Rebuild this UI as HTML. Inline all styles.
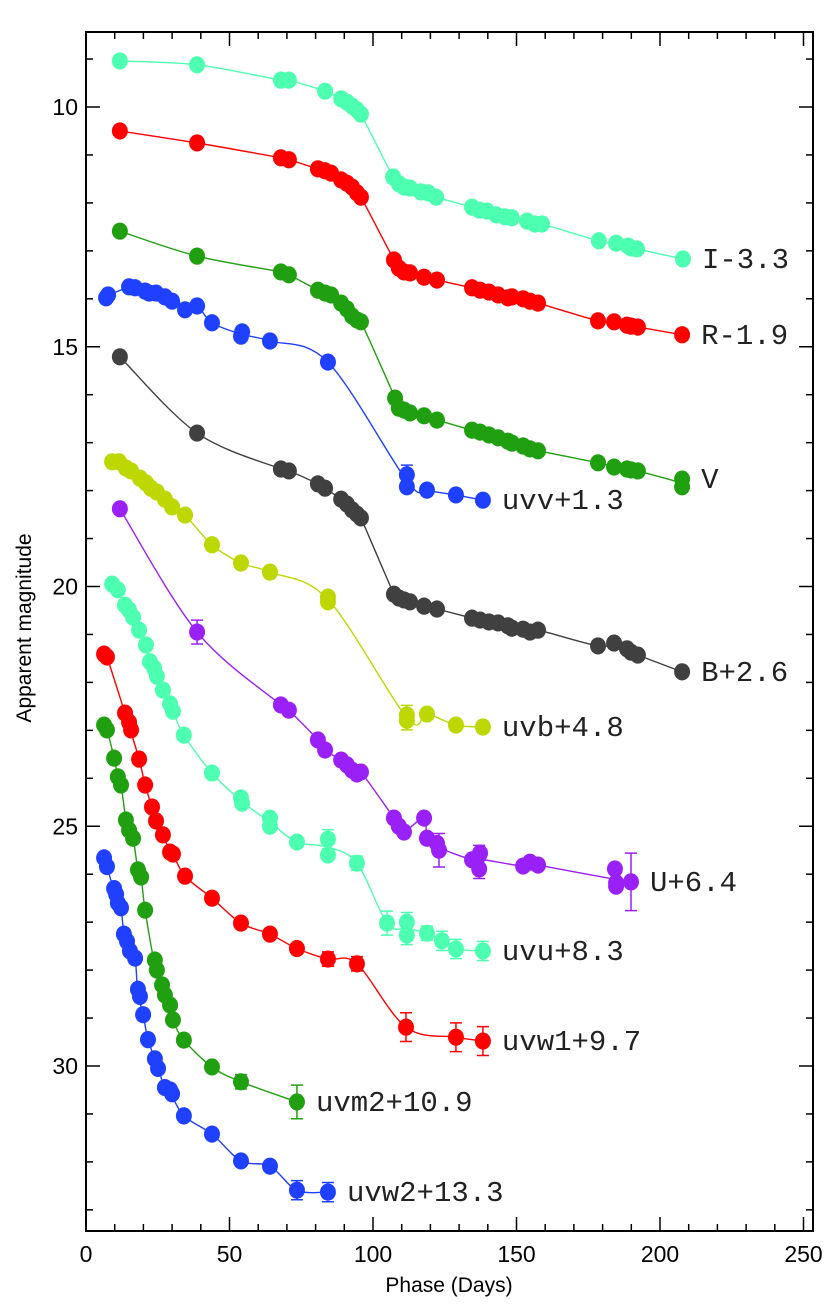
<!DOCTYPE html>
<html><head><meta charset="utf-8"><style>
html,body{margin:0;padding:0;background:#fff;}
svg{display:block;}
text{font-family:"Liberation Sans",sans-serif;}
.lbl{font-family:"Liberation Mono",monospace;font-size:29px;fill:#222;}
</style></head><body>
<svg id="chart" width="830" height="1304" viewBox="0 0 830 1304" xmlns="http://www.w3.org/2000/svg">
<g id="grid"></g>
<g id="series"></g>
<rect x="86" y="32" width="727" height="1199" fill="none" stroke="#000" stroke-width="2"/>
<text x="449" y="1292" font-size="21" text-anchor="middle">Phase (Days)</text>
<text x="31" y="628" font-size="21" text-anchor="middle" transform="rotate(-90 31 628)">Apparent magnitude</text>
</svg>
<script>
const xTicks=[0,50,100,150,200,250];
const yTicks=[10,15,20,25,30];
const seriesNames=["I-3.3","R-1.9","V","uvv+1.3","B+2.6","uvb+4.8","U+6.4","uvu+8.3","uvw1+9.7","uvm2+10.9","uvw2+13.3"];
const seriesColors=["#4dffb0","#ff0000","#20a010","#2040ff","#404040","#bcd800","#9a20f8","#4dffb0","#ff0000","#20a010","#2040ff"];
const iPhase=[11.8,38.7,67.9,70.7,83.3,88.9,90.9,92.7,94.4,95.8,107,109,110.8,112.9,116.7,119.2,122,134.5,137,139.7,142.9,146,148.4,153.7,156.4,158.9,178.7,184.7,188.9,189.9,192,208];
const iMag=[9.04,9.12,9.44,9.44,9.67,9.83,9.9,9.98,10.06,10.15,11.46,11.6,11.67,11.69,11.77,11.79,11.88,12.09,12.15,12.17,12.25,12.29,12.31,12.38,12.44,12.44,12.79,12.84,12.9,12.94,12.96,13.17];
const rPhase=[11.8,38.7,67.9,70.7,80.8,83.3,85.4,88.9,90.9,92.7,94.4,95.8,107.3,109,110.8,112.9,117.8,122.3,134.5,137.3,140.4,143.6,147,148.4,152.3,154.7,157.5,178.4,184,188.5,189.9,192.3,207.7];
const rMag=[10.5,10.75,11.06,11.1,11.29,11.33,11.38,11.52,11.59,11.67,11.79,11.88,13.19,13.36,13.44,13.46,13.55,13.61,13.77,13.82,13.86,13.92,13.98,13.96,14.0,14.05,14.09,14.46,14.48,14.55,14.57,14.59,14.75];
const vPhase=[11.8,38.7,67.9,70.7,80.8,83.3,85.4,88.9,90.9,92.7,94.4,95.8,107.7,109,110.8,112.9,117.8,122.3,134.5,137.3,140.4,143.6,147,148.4,152.3,154.7,157.5,178.4,184,188.5,189.9,192.3,207.7,207.7];
const vMag=[12.59,13.11,13.44,13.5,13.82,13.88,13.92,14.09,14.21,14.36,14.44,14.48,16.07,16.28,16.32,16.38,16.44,16.53,16.74,16.78,16.84,16.9,16.97,17.01,17.07,17.13,17.17,17.42,17.51,17.55,17.57,17.59,17.76,17.92];
const uvvPhase=[7,7.7,15,17.1,20.6,22,24.4,27.5,30,34.5,38.7,43.9,54,54.4,64.1,84.3,111.8,111.8,118.8,128.9,138.3];
const uvvMag=[13.98,13.92,13.75,13.77,13.84,13.88,13.88,13.96,14.05,14.23,14.15,14.5,14.78,14.69,14.88,15.32,17.67,17.92,17.99,18.09,18.2];
const uvvErr=[0,0,0,0,0,0,0,0,0,0,0,0,0,0,0,0,0.2,0,0,0,0];
const bPhase=[11.8,38.7,67.9,70.7,80.8,83.3,88.9,90.9,92.7,94.4,95.8,107.3,109,110.8,112.9,117.8,122.3,134.5,137.3,140.4,143.6,147,148.4,152.3,154.7,157.5,178.4,184,188.5,189.9,192.3,207.7];
const bMag=[15.21,16.8,17.55,17.59,17.86,17.95,18.18,18.28,18.4,18.49,18.57,20.16,20.24,20.28,20.32,20.41,20.47,20.66,20.7,20.74,20.76,20.82,20.87,20.89,20.95,20.91,21.24,21.18,21.3,21.37,21.43,21.78];
const uvbPhase=[9.1,11.5,13.9,15.7,18.8,20.9,22.6,24.7,27.5,30,34.5,43.9,54,64.1,84.3,84.3,111.8,111.8,118.8,128.9,138.3];
const uvbMag=[17.4,17.4,17.53,17.59,17.74,17.84,17.95,18.03,18.18,18.34,18.51,19.13,19.51,19.7,20.22,20.32,22.68,22.79,22.66,22.89,22.93];
const uvbErr=[0,0,0,0,0,0,0,0,0,0,0,0,0,0,0,0,0.2,0.2,0,0,0];
const uPhase=[11.8,38.7,67.9,70.7,80.8,83.3,88.9,90.9,92.7,94.4,95.8,107.3,109,110.8,117.8,118.8,122.3,123,134.5,137,137,137.3,152.3,154.7,157.5,184.3,184.7,189.9,184.7];
const uMag=[18.38,20.95,22.47,22.58,23.2,23.41,23.62,23.72,23.83,23.91,23.87,24.83,25.0,25.12,24.83,25.25,25.36,25.5,25.7,25.6,25.89,25.56,25.83,25.75,25.81,25.89,26.18,26.16,26.25];
const uErr=[0,0.25,0,0,0,0,0,0,0,0,0,0,0,0,0,0,0,0.35,0,0.2,0.2,0,0,0,0,0,0,0.6,0];
const uvuPhase=[9.1,11.1,13.6,15,16.4,18.5,20.9,22.3,23.7,24.7,26.8,29.3,30.3,34.1,43.9,54,54.4,64.1,64.1,73.5,84.3,84.3,94.4,104.9,111.8,111.8,118.8,124,128.9,138.3];
const uvuMag=[19.95,20.07,20.39,20.49,20.64,20.91,21.22,21.57,21.7,21.87,22.16,22.45,22.6,23.1,23.89,24.41,24.52,24.83,25.0,25.33,25.27,25.6,25.77,27.02,27.0,27.27,27.23,27.39,27.56,27.6];
const uvuErr=[0,0,0,0,0,0,0,0,0,0,0,0,0,0,0,0,0,0,0,0,0.2,0,0.15,0.25,0.2,0.2,0.15,0.2,0.2,0.2];
const uvw1Phase=[6.3,7.3,13.6,15,15.7,18.5,20.6,23,24.4,26.8,29.3,30.3,34.5,43.9,54,64.1,73.5,84.3,94.4,111.5,128.9,138.3];
const uvw1Mag=[21.41,21.47,22.64,22.83,22.99,23.6,24.14,24.6,24.89,25.18,25.54,25.58,26.04,26.5,27.02,27.25,27.55,27.77,27.87,29.19,29.4,29.48];
const uvw1Err=[0,0,0,0,0,0,0,0,0,0,0,0,0,0,0,0,0,0.15,0.15,0.3,0.3,0.3];
const uvm2Phase=[6.3,7.3,9.8,11.1,12.2,13.9,15,16.4,18.1,19.2,20.6,24,24.7,26.5,27.5,29.3,30.3,34.1,43.9,54,73.5];
const uvm2Mag=[22.89,22.99,23.58,23.97,24.14,24.87,25.08,25.25,25.91,26.06,26.75,27.79,28.0,28.31,28.52,28.73,29.04,29.46,30.02,30.33,30.75];
const uvm2Err=[0,0,0,0,0,0,0,0,0,0,0,0,0,0,0,0,0,0,0.1,0.15,0.35];
const uvw2Phase=[6.3,7.3,9.8,10.5,11.1,12.2,13.2,14.3,15.3,17.1,18.1,18.8,19.9,21.6,24,25.1,27.5,29.3,30,34.1,43.9,54,64.1,73.5,84.3];
const uvw2Mag=[25.66,25.84,26.3,26.42,26.6,26.7,27.25,27.4,27.6,27.75,28.4,28.55,28.93,29.45,29.85,30.05,30.45,30.5,30.58,31.04,31.42,31.98,32.09,32.59,32.63];
const uvw2Err=[0,0,0,0,0,0,0,0,0,0,0,0,0,0,0,0,0,0,0,0,0,0.1,0.1,0.2,0.2];
const allPhase=[iPhase,rPhase,vPhase,uvvPhase,bPhase,uvbPhase,uPhase,uvuPhase,uvw1Phase,uvm2Phase,uvw2Phase];
const allMag=[iMag,rMag,vMag,uvvMag,bMag,uvbMag,uMag,uvuMag,uvw1Mag,uvm2Mag,uvw2Mag];
const allErr=[null,null,null,uvvErr,null,uvbErr,uErr,uvuErr,uvw1Err,uvm2Err,uvw2Err];

const NS="http://www.w3.org/2000/svg";
const X0=86,XS=2.87,Y0=107,YS=47.95;
function xs(d){return X0+d*XS;}
function ys(m){return Y0+(m-10)*YS;}
function mk(t,a,p){const e=document.createElementNS(NS,t);for(const k in a)e.setAttribute(k,a[k]);p.appendChild(e);return e;}
const grid=document.getElementById('grid'),ser=document.getElementById('series');
for(let d=0;d<=250;d+=10){
  const major=d%50===0,x=xs(d);
  const t1=mk('line',{x1:x,x2:x,y1:1231,y2:1231-(major?14:7),stroke:'#000','stroke-width':1.5},grid);
  
  
  const t2=mk('line',{x1:x,x2:x,y1:32,y2:32+(major?14:7),stroke:'#000','stroke-width':1.5},grid);
  
  
}
xTicks.forEach(d=>{
  const t=mk('text',{x:xs(d),y:1262,'font-size':23,'text-anchor':'middle'},grid);
  t.textContent=d;
  
  
});
for(let m=9;m<=33;m++){
  const major=m%5===0,y=ys(m);
  const t1=mk('line',{x1:86,x2:86+(major?14:7),y1:y,y2:y,stroke:'#000','stroke-width':1.5},grid);
  
  
  const t2=mk('line',{x1:813,x2:813-(major?14:7),y1:y,y2:y,stroke:'#000','stroke-width':1.5},grid);
  
  
}
yTicks.forEach(m=>{
  const t=mk('text',{x:78,y:ys(m)+8,'font-size':23,'text-anchor':'end'},grid);
  t.textContent=m;
  
  
});
function spline(pts){
  let d='M'+pts[0][0]+','+pts[0][1];
  for(let i=0;i<pts.length-1;i++){
    const p0=pts[Math.max(i-1,0)],p1=pts[i],p2=pts[i+1],p3=pts[Math.min(i+2,pts.length-1)];
    const c1=[p1[0]+(p2[0]-p0[0])/6,p1[1]+(p2[1]-p0[1])/6];
    const c2=[p2[0]-(p3[0]-p1[0])/6,p2[1]-(p3[1]-p1[1])/6];
    d+=' C'+c1[0].toFixed(1)+','+c1[1].toFixed(1)+' '+c2[0].toFixed(1)+','+c2[1].toFixed(1)+' '+p2[0].toFixed(1)+','+p2[1].toFixed(1);
  }
  return d;
}
allPhase.forEach((ph,s)=>{
  const col=seriesColors[s],mg=allMag[s],er=allErr[s];
  const g=mk('g',{},ser);
  
  
  const idx=ph.map((p,i)=>i).sort((a,b)=>ph[a]-ph[b]);
  const pts=[];
  idx.forEach(i=>{
    const last=pts[pts.length-1];
    if(last&&Math.abs(last.p-ph[i])<0.9){last.s+=mg[i];last.n++;}
    else pts.push({p:ph[i],s:mg[i],n:1});
  });
  const line=mk('path',{d:spline(pts.map(o=>[xs(o.p),ys(o.s/o.n)])),fill:'none',stroke:col,'stroke-width':1.4},g);
  
  
  ph.forEach((p,i)=>{
    const cx=xs(p),cy=ys(mg[i]);
    if(er&&er[i]>0){
      const y1=ys(mg[i]-er[i]),y2=ys(mg[i]+er[i]);
      const eb=mk('path',{d:`M${cx},${y1}V${y2}M${cx-6},${y1}H${cx+6}M${cx-6},${y2}H${cx+6}`,stroke:col,'stroke-width':1.5,fill:'none'},g);
      
      
    }
    const c=mk('ellipse',{cx:cx,cy:cy,rx:8,ry:8.6,fill:col},g);
    
    
  });
  const lp=ph.indexOf(Math.max(...ph));
  const t=mk('text',{x:xs(ph[lp])+19,y:ys(mg[lp])+9,class:'lbl'},g);
  t.textContent=seriesNames[s];
  
  
});
</script>
</body></html>
